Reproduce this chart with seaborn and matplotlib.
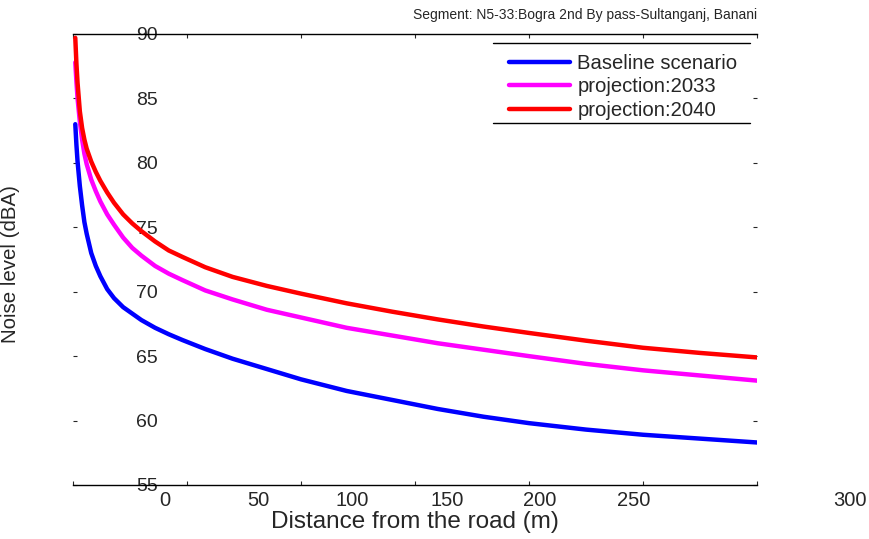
import matplotlib
matplotlib.use('Agg')
import matplotlib.pyplot as plt
import seaborn as sns
import pandas as pd
import numpy as np

# distances along the road (m) and noise levels (dBA)
distance = [1, 1.5, 2, 3, 4, 5, 6, 8, 10, 12, 15, 18, 22, 26, 30, 36, 42, 48,
            58, 70, 85, 100, 120, 140, 160, 180, 200, 225, 250, 275, 300]
baseline = [83.0, 81.4, 80.1, 78.2, 76.7, 75.4, 74.5, 73.0, 72.0, 71.2, 70.2,
            69.5, 68.8, 68.3, 67.8, 67.2, 66.7, 66.25, 65.55, 64.8, 64.0, 63.2,
            62.3, 61.6, 60.9, 60.3, 59.8, 59.3, 58.9, 58.6, 58.3]
proj_2033 = [87.8, 86.3, 85.0, 83.2, 81.8, 80.7, 79.9, 78.7, 77.8, 77.0, 76.0,
             75.2, 74.2, 73.4, 72.8, 72.0, 71.4, 70.9, 70.1, 69.4, 68.6, 68.0,
             67.2, 66.6, 66.0, 65.5, 65.0, 64.4, 63.9, 63.5, 63.1]
proj_2040 = [89.7, 87.7, 86.2, 84.0, 82.7, 81.8, 81.1, 80.1, 79.3, 78.6, 77.7,
             76.9, 76.0, 75.3, 74.7, 73.9, 73.2, 72.7, 71.9, 71.15, 70.45, 69.85,
             69.1, 68.45, 67.85, 67.3, 66.8, 66.2, 65.65, 65.25, 64.9]

series_names = ['Baseline scenario', 'projection:2033', 'projection:2040']
series_colors = ['#0000ff', '#ff00ff', '#ff0000']

x_ticks = [0, 50, 100, 150, 200, 250, 300]
y_ticks = [55, 60, 65, 70, 75, 80, 85, 90]

df = pd.DataFrame({
    'distance': distance * 3,
    'noise': baseline + proj_2033 + proj_2040,
    'scenario': np.repeat(series_names, len(distance)),
})

sns.set_style('white')
plt.rcParams['font.family'] = ['Liberation Sans', 'DejaVu Sans']

fig = plt.figure(figsize=(8.69, 5.39), dpi=100)
ax = fig.add_axes([73 / 869, 54 / 539, 684 / 869, 451 / 539])

sns.lineplot(data=df, x='distance', y='noise', hue='scenario',
             palette=dict(zip(series_names, series_colors)),
             linewidth=3.2, legend=False, ax=ax)

ax.set_xlim(0, 300)
ax.set_ylim(55, 90)

# frame: only top and bottom lines like the original export
ax.spines['left'].set_visible(False)
ax.spines['right'].set_visible(False)
for s in ('top', 'bottom'):
    ax.spines[s].set_linewidth(1.0)
    ax.spines[s].set_color('black')

ax.set_xticks(x_ticks)
ax.set_xticklabels([])
ax.set_yticks(y_ticks)
ax.set_yticklabels([str(v) for v in y_ticks])
ax.tick_params(axis='x', direction='in', length=3, width=0.8, top=True, bottom=True)
ax.tick_params(axis='y', direction='in', length=3, width=0.8, left=True, right=True,
               labelsize=14, pad=-61)

# misplaced x tick labels as they appear in the reference
xlabel_px = [165, 258, 352, 447, 540, 634, 850]
for px, val in zip(xlabel_px, x_ticks):
    fig.text(px / 869, 1 - 501 / 539, str(val), ha='center', va='center', fontsize=14.5)

ax.set_xlabel('Distance from the road (m)', fontsize=17.5)
ax.set_ylabel('Noise level (dBA)', fontsize=14.8)
ax.xaxis.set_label_coords(0.5, -0.058)
ax.yaxis.set_label_coords(-0.077, 0.49)

ax.set_title('Segment: N5-33:Bogra 2nd By pass-Sultanganj, Banani',
             loc='right', fontsize=10, pad=11)

handles = [plt.Line2D([], [], color=c, lw=3.2) for c in series_colors]
ax.legend(handles, series_names, loc='upper left', bbox_to_anchor=(0.632, 0.965),
          frameon=False, fontsize=14.6, handlelength=3.0, handletextpad=0.35,
          labelspacing=0.22, borderaxespad=0, borderpad=0.2)
for yy in (0.98, 0.803):
    ax.plot([0.614, 0.99], [yy, yy], transform=ax.transAxes, color='black',
            lw=1.0, clip_on=False)

fig.savefig('out.png', dpi=100)
